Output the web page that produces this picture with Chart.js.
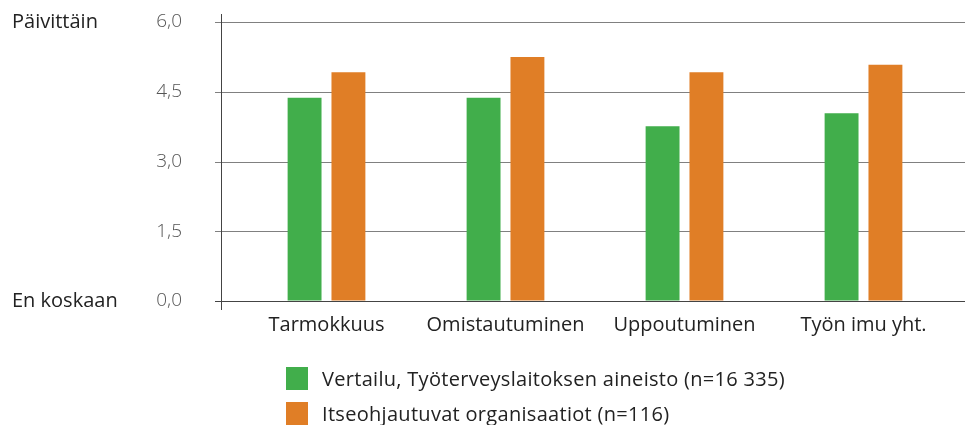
<!DOCTYPE html>
<html lang="fi">
<head>
    <meta charset="UTF-8">
    <title>Työn imu</title>
    <script src="https://cdn.jsdelivr.net/npm/chart.js@4.4.1/dist/chart.umd.min.js"></script>
    <style>
        * { margin: 0; padding: 0; box-sizing: border-box; }
        body { background: #ffffff; width: 965px; height: 425px; overflow: hidden; font-family: 'Open Sans', sans-serif; }
        .wrap { position: relative; width: 965px; height: 425px; }
        canvas { display: block; }
        .legend { position: absolute; left: 286px; top: 361px; }
        .legend-item { display: flex; align-items: center; height: 35px; font-size: 20px; letter-spacing: 0.3px; color: #222; }
        .legend-box { width: 22px; height: 23px; margin-right: 14px; }
    </style>
</head>
<body>
    <div class="wrap">
        <canvas id="chart" width="965" height="425"></canvas>
        <div class="legend" id="legend"></div>
    </div>

    <script>
        // data
        const categories = ['Tarmokkuus', 'Omistautuminen', 'Uppoutuminen', 'Työn imu yht.'];
        const seriesNames = ['Vertailu, Työterveyslaitoksen aineisto (n=16 335)', 'Itseohjautuvat organisaatiot (n=116)'];
        const vertailu = [4.37, 4.37, 3.76, 4.04];
        const itseohjautuvat = [4.92, 5.25, 4.92, 5.08];
        const yTicks = [0, 1.5, 3.0, 4.5, 6.0];
        const endLabels = { top: 'Päivittäin', bottom: 'En koskaan' };

        const colors = ['#41ae4b', '#e07e26'];
        const fontFamily = '"Open Sans", sans-serif';

        // legend below chart
        const legendEl = document.getElementById('legend');
        seriesNames.forEach((name, i) => {
            const item = document.createElement('div');
            item.className = 'legend-item';
            item.innerHTML = '<span class="legend-box" style="background:' + colors[i] + '"></span><span>' + name + '</span>';
            legendEl.appendChild(item);
        });

        // gridlines, y axis line and end labels
        const decorations = {
            id: 'decorations',
            beforeDatasetsDraw(chart) {
                const c = chart.ctx;
                const y = chart.scales.y;
                c.save();
                c.lineWidth = 1;
                yTicks.forEach(v => {
                    const py = Math.round(y.getPixelForValue(v)) + 0.5;
                    c.strokeStyle = v === 0 ? '#444' : '#808080';
                    c.beginPath();
                    c.moveTo(215, py);
                    c.lineTo(965, py);
                    c.stroke();
                });
                c.strokeStyle = '#444';
                c.beginPath();
                c.moveTo(221.5, 14);
                c.lineTo(221.5, 310);
                c.stroke();

                c.fillStyle = '#222';
                c.font = '20px ' + fontFamily;
                c.textAlign = 'left';
                c.textBaseline = 'middle';
                c.fillText(endLabels.top, 12, y.getPixelForValue(6));
                c.fillText(endLabels.bottom, 12, y.getPixelForValue(0));
                c.restore();
            }
        };

        const ctx = document.getElementById('chart').getContext('2d');
        new Chart(ctx, {
            type: 'bar',
            data: {
                labels: categories,
                datasets: [
                    { label: seriesNames[0], data: vertailu, backgroundColor: colors[0] },
                    { label: seriesNames[1], data: itseohjautuvat, backgroundColor: colors[1] }
                ]
            },
            options: {
                responsive: false,
                animation: false,
                layout: { padding: { top: 22, right: 12, left: 0, bottom: 0 } },
                categoryPercentage: 0.49,
                barPercentage: 0.773,
                plugins: {
                    legend: { display: false },
                    tooltip: { enabled: false }
                },
                scales: {
                    x: {
                        grid: { display: false, drawTicks: false },
                        border: { display: false },
                        ticks: {
                            color: '#222',
                            font: { family: fontFamily, size: 20 },
                            padding: 12,
                            maxRotation: 0
                        },
                        afterFit(s) { s.height = 124; }
                    },
                    y: {
                        min: 0,
                        max: 6,
                        afterBuildTicks(s) { s.ticks = yTicks.map(v => ({ value: v })); },
                        grid: { display: true, drawOnChartArea: false, drawTicks: true, tickLength: 50, color: 'rgba(0,0,0,0)' },
                        border: { display: false },
                        ticks: {
                            color: '#555',
                            font: { family: fontFamily, size: 19, weight: '300' },
                            padding: 5,
                            callback: v => v.toFixed(1).replace('.', ',')
                        },
                        afterFit(s) { s.width = 237; }
                    }
                }
            },
            plugins: [decorations]
        });
    </script>
</body>
</html>
